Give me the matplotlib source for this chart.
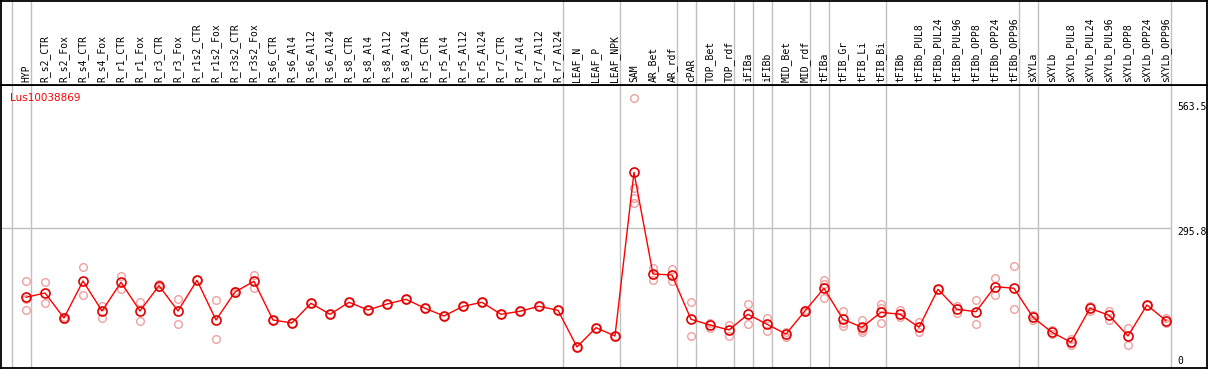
import numpy as np
import matplotlib
matplotlib.use("Agg")
import matplotlib.pyplot as plt

gene = "Lus10038869"

samples = ["HYP", "R_s2_CTR", "R_s2_Fox", "R_s4_CTR", "R_s4_Fox", "R_r1_CTR", "R_r1_Fox",
           "R_r3_CTR", "R_r3_Fox", "R_r1s2_CTR", "R_r1s2_Fox", "R_r3s2_CTR", "R_r3s2_Fox",
           "R_s6_CTR", "R_s6_Al4", "R_s6_Al12", "R_s6_Al24", "R_s8_CTR", "R_s8_Al4",
           "R_s8_Al12", "R_s8_Al24", "R_r5_CTR", "R_r5_Al4", "R_r5_Al12", "R_r5_Al24",
           "R_r7_CTR", "R_r7_Al4", "R_r7_Al12", "R_r7_Al24", "LEAF_N", "LEAF_P", "LEAF_NPK",
           "SAM", "AR_Bet", "AR_rdf", "cPAR", "TOP_Bet", "TOP_rdf", "iFIBa", "iFIBb",
           "MID_Bet", "MID_rdf", "tFIBa", "tFIB_Gr", "tFIB_Li", "tFIB_Bi", "tFIBb",
           "tFIBb_PUL8", "tFIBb_PUL24", "tFIBb_PUL96", "tFIBb_OPP8", "tFIBb_OPP24",
           "tFIBb_OPP96", "sXYLa", "sXYLb", "sXYLb_PUL8", "sXYLb_PUL24", "sXYLb_PUL96",
           "sXYLb_OPP8", "sXYLb_OPP24", "sXYLb_OPP96"]

means = [153.6, 162.5, 111.0, 187.2, 125.4, 184.5, 125.4, 177.5, 125.4, 188.6, 106.9,
         164.5, 186.6, 106.9, 100.7, 141.3, 118.6, 143.3, 127.5, 139.8, 149.5, 131.0,
         115.1, 135.1, 143.3, 118.6, 124.8, 135.1, 126.9, 51.3, 91.0, 73.9,
         411.0, 201.6, 199.5, 108.3, 96.6, 86.3, 118.6, 98.0, 78.0, 125.4, 172.2,
         108.3, 91.8, 122.7, 118.6, 91.8, 170.1, 128.9, 124.0, 175.5, 172.2,
         112.4, 81.5, 61.0, 131.0, 116.6, 73.9, 137.8, 105.4]

replicates = [[187.2, 149.5, 127.5], [184.5, 141.9], [113.1, 109.0], [215.4, 158.4],
              [135.7, 111.6], [197.5, 170.1], [143.9, 104.8], [181.6, 174.2],
              [149.5, 98.0], [188.6], [148.1, 67.8], [165.9, 163.1], [200.2, 172.2],
              [106.9], [100.7], [141.3], [118.6], [143.3], [127.5], [139.8], [149.5],
              [131.0], [115.1], [135.1], [143.3], [118.6], [124.8], [135.1], [126.9],
              [51.3], [91.0], [73.9],
              [563.4, 378.1, 357.5, 348.4], [213.3, 189.3], [211.9, 187.2], [143.3, 73.3],
              [101.3, 89.8], [96.6, 73.9], [139.8, 98.0], [111.0, 84.8], [82.2, 72.5],
              [127.5, 123.4], [189.3, 181.0, 151.6], [125.4, 100.1, 94.5],
              [106.9, 86.3, 82.2], [139.8, 132.2, 100.1], [127.5, 112.4], [102.8, 82.8],
              [170.1], [135.7, 121.3], [147.4, 98.6], [192.8, 157.7], [217.5, 128.9],
              [116.6, 106.9], [85.7, 77.4], [67.1, 54.8], [135.7, 126.0], [126.0, 106.9],
              [89.8, 54.8], [137.8], [111.0, 100.1]]

# group separators sit after these sample indices
group_ends = [-1, 0, 28, 31, 34, 35, 37, 38, 39, 41, 42, 45, 52, 53, 60]
scale_labels = ["563.5", "295.8", "0"]
scale_values = [563.5, 295.8, 0]

W, H = 1209, 370
fig = plt.figure(figsize=(W / 100, H / 100), dpi=100)

x = np.arange(len(samples))
xlim = (-1.316, 62.16)
grid_col = "#c0c0c0"

ax = fig.add_axes([1 / W, 2 / H, 1206 / W, 283 / H])
top = fig.add_axes([1 / W, 285 / H, 1206 / W, 84.5 / H])

for a in (ax, top):
    a.set_xlim(*xlim)
    a.set_xticks([])
    a.set_yticks([])
    for s in a.spines.values():
        s.set_color("black")
        s.set_linewidth(1.3)
    for g in group_ends:
        a.axvline(g + 0.25, color=grid_col, lw=1.0, zorder=0)

ax.set_ylim(8.0, 590.8)
top.set_ylim(0, 1)

# horizontal reference line at the middle value
ax.hlines(scale_values[1], xlim[0], group_ends[-1] + 0.25, color=grid_col, lw=1.0, zorder=0)

rx = np.concatenate([[i] * len(r) for i, r in enumerate(replicates)])
ry = np.concatenate(replicates)
ax.plot(rx, ry, "o", ms=5.5, mfc="none", mec="#f0a0a0", mew=1.0, zorder=2)
ax.plot(x, means, "-", color="red", lw=1.0, zorder=3)
ax.plot(x, means, "o", ms=6.5, mfc="none", mec="#e00000", mew=1.2, zorder=4)

for i, name in enumerate(samples):
    top.text(i, 0.03, name, rotation=90, ha="center", va="bottom",
             family="DejaVu Sans Mono", fontsize=7)

ax.text(0.0075, 0.97, gene, transform=ax.transAxes, color="red",
        family="DejaVu Sans", fontsize=7.5, va="top", ha="left")

lab_x = 60.62
ax.text(lab_x, scale_values[0] - 8, scale_labels[0], va="top", ha="left",
        family="DejaVu Sans Mono", fontsize=7)
ax.text(lab_x, scale_values[1] + 2, scale_labels[1], va="top", ha="left",
        family="DejaVu Sans Mono", fontsize=7)
ax.text(lab_x, 12, scale_labels[2], va="bottom", ha="left",
        family="DejaVu Sans Mono", fontsize=7)

fig.savefig("out.png", dpi=100)
